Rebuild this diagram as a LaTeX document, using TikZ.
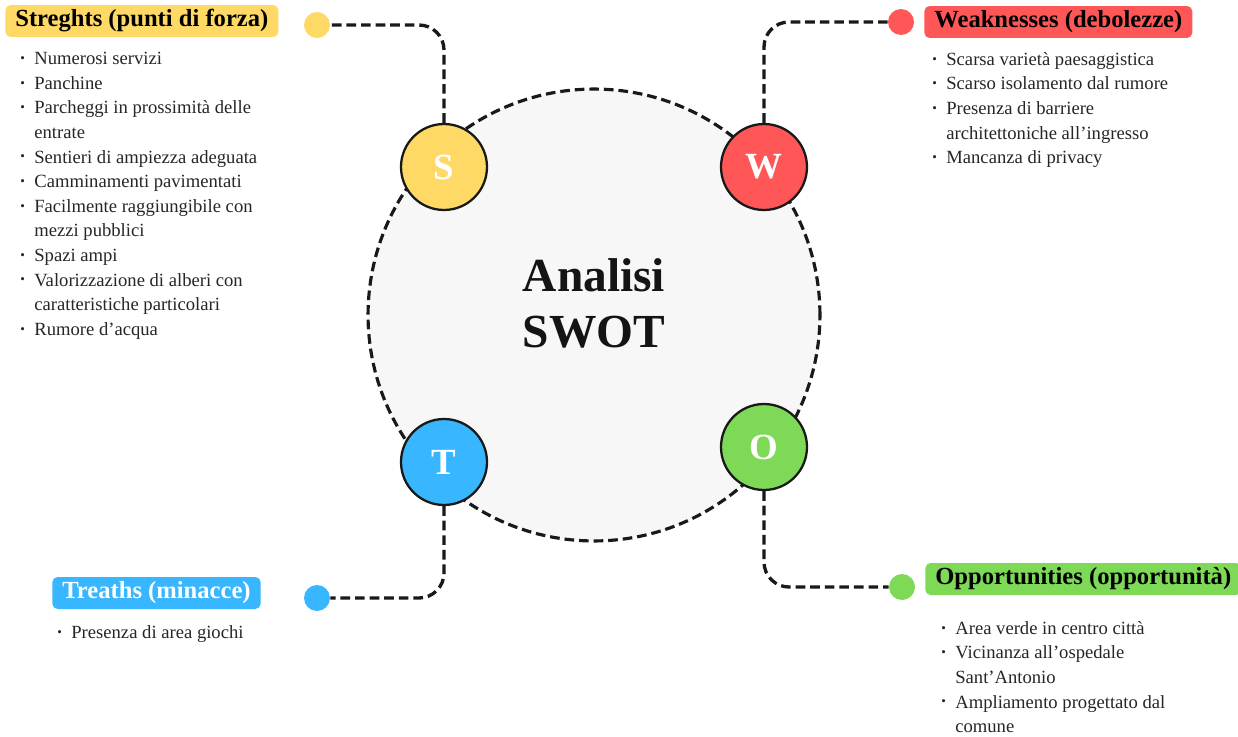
\documentclass[tikz,border=0pt]{standalone}
\usepackage{fontspec}
\setmainfont{Liberation Serif}
\usepackage{xcolor}
\usepackage{graphicx}
\usepackage{tikz}
\usetikzlibrary{positioning}

\definecolor{swotyellow}{HTML}{FFD966}
\definecolor{swotred}{HTML}{FF5757}
\definecolor{swotblue}{HTML}{38B6FF}
\definecolor{swotgreen}{HTML}{7ED957}
\definecolor{bodytext}{HTML}{262626}

\newcommand{\listdot}{\makebox[0.28cm][l]{\raisebox{0.25ex}{\scalebox{0.7}{\textbullet}}}}
\newcommand{\listgap}{\hspace*{0.28cm}}

\begin{document}
\begin{tikzpicture}[
    x=0.02cm, y=-0.02cm,
    bigcircle/.style={circle, draw=black!90, fill=black!3, minimum size=9.04cm, inner sep=0, line width=1.8pt, dash pattern=on 5.5pt off 2.8pt},
    letter/.style={circle, draw=black!90, line width=1.3pt, minimum size=1.72cm, inner sep=0, text=white, font=\fontsize{21}{21}\selectfont\bfseries},
    dot/.style={circle, minimum size=0.52cm, inner sep=0},
    titlebox/.style={anchor=west, rounded corners=3pt, minimum height=0.64cm, inner xsep=0.2cm, inner ysep=0, font=\fontsize{14}{14}\selectfont\bfseries},
    itemlist/.style={anchor=north west, inner sep=0, align=left, text=bodytext, font=\fontsize{10.6}{14}\selectfont},
    link/.style={line width=1.9pt, draw=black!90, dash pattern=on 5.5pt off 2.8pt, rounded corners=0.5cm},
]
\useasboundingbox (0,0) rectangle (1238,737);

% centre
\node[bigcircle] (swot) at (594,315) {};
\node[align=center, font=\fontsize{27}{31.8}\selectfont\bfseries, text=black!92] (swottxt) at (594,303) {Analisi\\SWOT};

% the four letters
\node[letter, fill=swotyellow] (s) at (444,167) {S};
\node[letter, fill=swotred] (w) at (764,167) {W};
\node[letter, fill=swotblue] (t) at (444,462) {T};
\node[letter, fill=swotgreen] (o) at (764,447) {O};

% end dots
\node[dot, fill=swotyellow] (sdot) at (317,25) {};
\node[dot, fill=swotred] (wdot) at (901,22) {};
\node[dot, fill=swotblue] (tdot) at (317,598) {};
\node[dot, fill=swotgreen] (odot) at (902,587) {};

\draw[link] (s) |- (sdot);
\draw[link] (w) |- (wdot);
\draw[link] (t) |- (tdot);
\draw[link] (o) |- (odot);

% titles
\node[titlebox, fill=swotyellow] (stitle) at (5,21) {Streghts (punti di forza)};
\node[titlebox, fill=swotred] (wtitle) at (924,22) {Weaknesses (debolezze)};
\node[titlebox, fill=swotblue, text=white] (ttitle) at (52,593) {Treaths (minacce)};
\node[titlebox, fill=swotgreen] (otitle) at (925,579) {Opportunities (opportunità)};

% lists
\node[itemlist] (slist) at (20,52) {\listdot Numerosi servizi\\
\listdot Panchine\\
\listdot Parcheggi in prossimità delle\\
\listgap entrate\\
\listdot Sentieri di ampiezza adeguata\\
\listdot Camminamenti pavimentati\\
\listdot Facilmente raggiungibile con\\
\listgap mezzi pubblici\\
\listdot Spazi ampi\\
\listdot Valorizzazione di alberi con\\
\listgap caratteristiche particolari\\
\listdot Rumore d’acqua};
\node[itemlist] (wlist) at (932,52) {\listdot Scarsa varietà paesaggistica\\
\listdot Scarso isolamento dal rumore\\
\listdot Presenza di barriere\\
\listgap architettoniche all’ingresso\\
\listdot Mancanza di privacy};
\node[itemlist] (tlist) at (57,625) {\listdot Presenza di area giochi};
\node[itemlist] (olist) at (941,621) {\listdot Area verde in centro città\\
\listdot Vicinanza all’ospedale\\
\listgap Sant’Antonio\\
\listdot Ampliamento progettato dal\\
\listgap comune};
\end{tikzpicture}
\end{document}
